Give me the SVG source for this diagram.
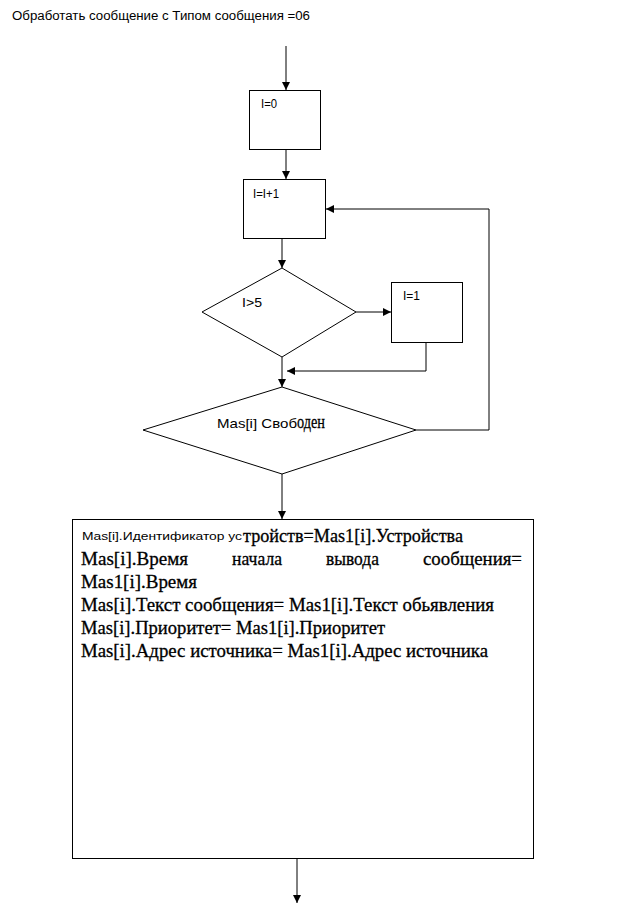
<svg xmlns="http://www.w3.org/2000/svg" width="618" height="907" viewBox="0 0 618 907">
<style>
.sh{fill:#fff;stroke:#000;stroke-width:1}
.ln{fill:none;stroke:#000;stroke-width:1}
.s{font-family:"Liberation Sans",Arial,sans-serif;font-size:12px;fill:#000}
.t{font-family:"Liberation Serif","Times New Roman",serif;font-size:19px;fill:#000;stroke:#000;stroke-width:0.3}
</style>
<defs>
<marker id="ah" viewBox="0 0 8 8" refX="8" refY="4" markerWidth="8" markerHeight="8" markerUnits="userSpaceOnUse" orient="auto">
<path d="M0,0 L8,4 L0,8 Z" fill="#000"/>
</marker>
</defs>
<rect width="618" height="907" fill="#fff"/>
<text class="s" x="12" y="20" textLength="298" lengthAdjust="spacingAndGlyphs">Обработать сообщение с Типом сообщения =06</text>
<g id="connectors">
<line class="ln" x1="286" y1="46" x2="286" y2="90" marker-end="url(#ah)"/>
<line class="ln" x1="286" y1="149" x2="286" y2="179" marker-end="url(#ah)"/>
<line class="ln" x1="282" y1="238" x2="282" y2="268" marker-end="url(#ah)"/>
<line class="ln" x1="356" y1="312" x2="391" y2="312" marker-end="url(#ah)"/>
<polyline class="ln" points="426,342 426,371 287,371" marker-end="url(#ah)"/>
<line class="ln" x1="282" y1="357" x2="282" y2="387" marker-end="url(#ah)"/>
<polyline class="ln" points="416,430 489,430 489,209 326,209" marker-end="url(#ah)"/>
<line class="ln" x1="282" y1="474" x2="282" y2="519" marker-end="url(#ah)"/>
<line class="ln" x1="297" y1="858" x2="297" y2="903" marker-end="url(#ah)"/>
</g>
<g id="n_i0">
<rect class="sh" x="249.5" y="90.5" width="71" height="59"/>
<text class="s" x="261" y="108" textLength="16" lengthAdjust="spacingAndGlyphs">I=0</text>
</g>
<g id="n_inc">
<rect class="sh" x="243.5" y="179.5" width="82" height="59"/>
<text class="s" x="253" y="198" textLength="26" lengthAdjust="spacingAndGlyphs">I=I+1</text>
</g>
<g id="n_cmp">
<polygon class="sh" points="282,268 356,312 282,357 202,312"/>
<text class="s" x="242" y="307" textLength="20" lengthAdjust="spacingAndGlyphs">I&gt;5</text>
</g>
<g id="n_i1">
<rect class="sh" x="391.5" y="282.5" width="71" height="60"/>
<text class="s" x="403" y="300" textLength="17" lengthAdjust="spacingAndGlyphs">I=1</text>
</g>
<g id="n_free">
<polygon class="sh" points="282,387 416,430 282,474 143,430"/>
<text class="s" x="217" y="428" textLength="80" lengthAdjust="spacingAndGlyphs" style="font-size:13px">Mas[i] Своб</text>
<text class="t" x="297" y="428" textLength="28" lengthAdjust="spacingAndGlyphs">оден</text>
</g>
<g id="n_assign">
<rect class="sh" x="72.5" y="519.5" width="461" height="339"/>
<text class="s" x="82" y="540" textLength="160" lengthAdjust="spacingAndGlyphs" style="font-size:10px">Mas[i].Идентификатор ус</text>
<text class="t" x="243" y="542" textLength="220" lengthAdjust="spacingAndGlyphs">тройств=Mas1[i].Устройства</text>
<text class="t" x="81" y="565" textLength="107" lengthAdjust="spacingAndGlyphs">Mas[i].Время</text>
<text class="t" x="232" y="565" textLength="50" lengthAdjust="spacingAndGlyphs">начала</text>
<text class="t" x="326" y="565" textLength="53" lengthAdjust="spacingAndGlyphs">вывода</text>
<text class="t" x="423" y="565" textLength="99" lengthAdjust="spacingAndGlyphs">сообщения=</text>
<text class="t" x="81" y="588" textLength="116" lengthAdjust="spacingAndGlyphs">Mas1[i].Время</text>
<text class="t" x="81" y="611" textLength="413" lengthAdjust="spacingAndGlyphs">Mas[i].Текст сообщения= Mas1[i].Текст обьявления</text>
<text class="t" x="81" y="634" textLength="304" lengthAdjust="spacingAndGlyphs">Mas[i].Приоритет= Mas1[i].Приоритет</text>
<text class="t" x="81" y="657" textLength="407" lengthAdjust="spacingAndGlyphs">Mas[i].Адрес источника= Mas1[i].Адрес источника</text>
</g>
</svg>
